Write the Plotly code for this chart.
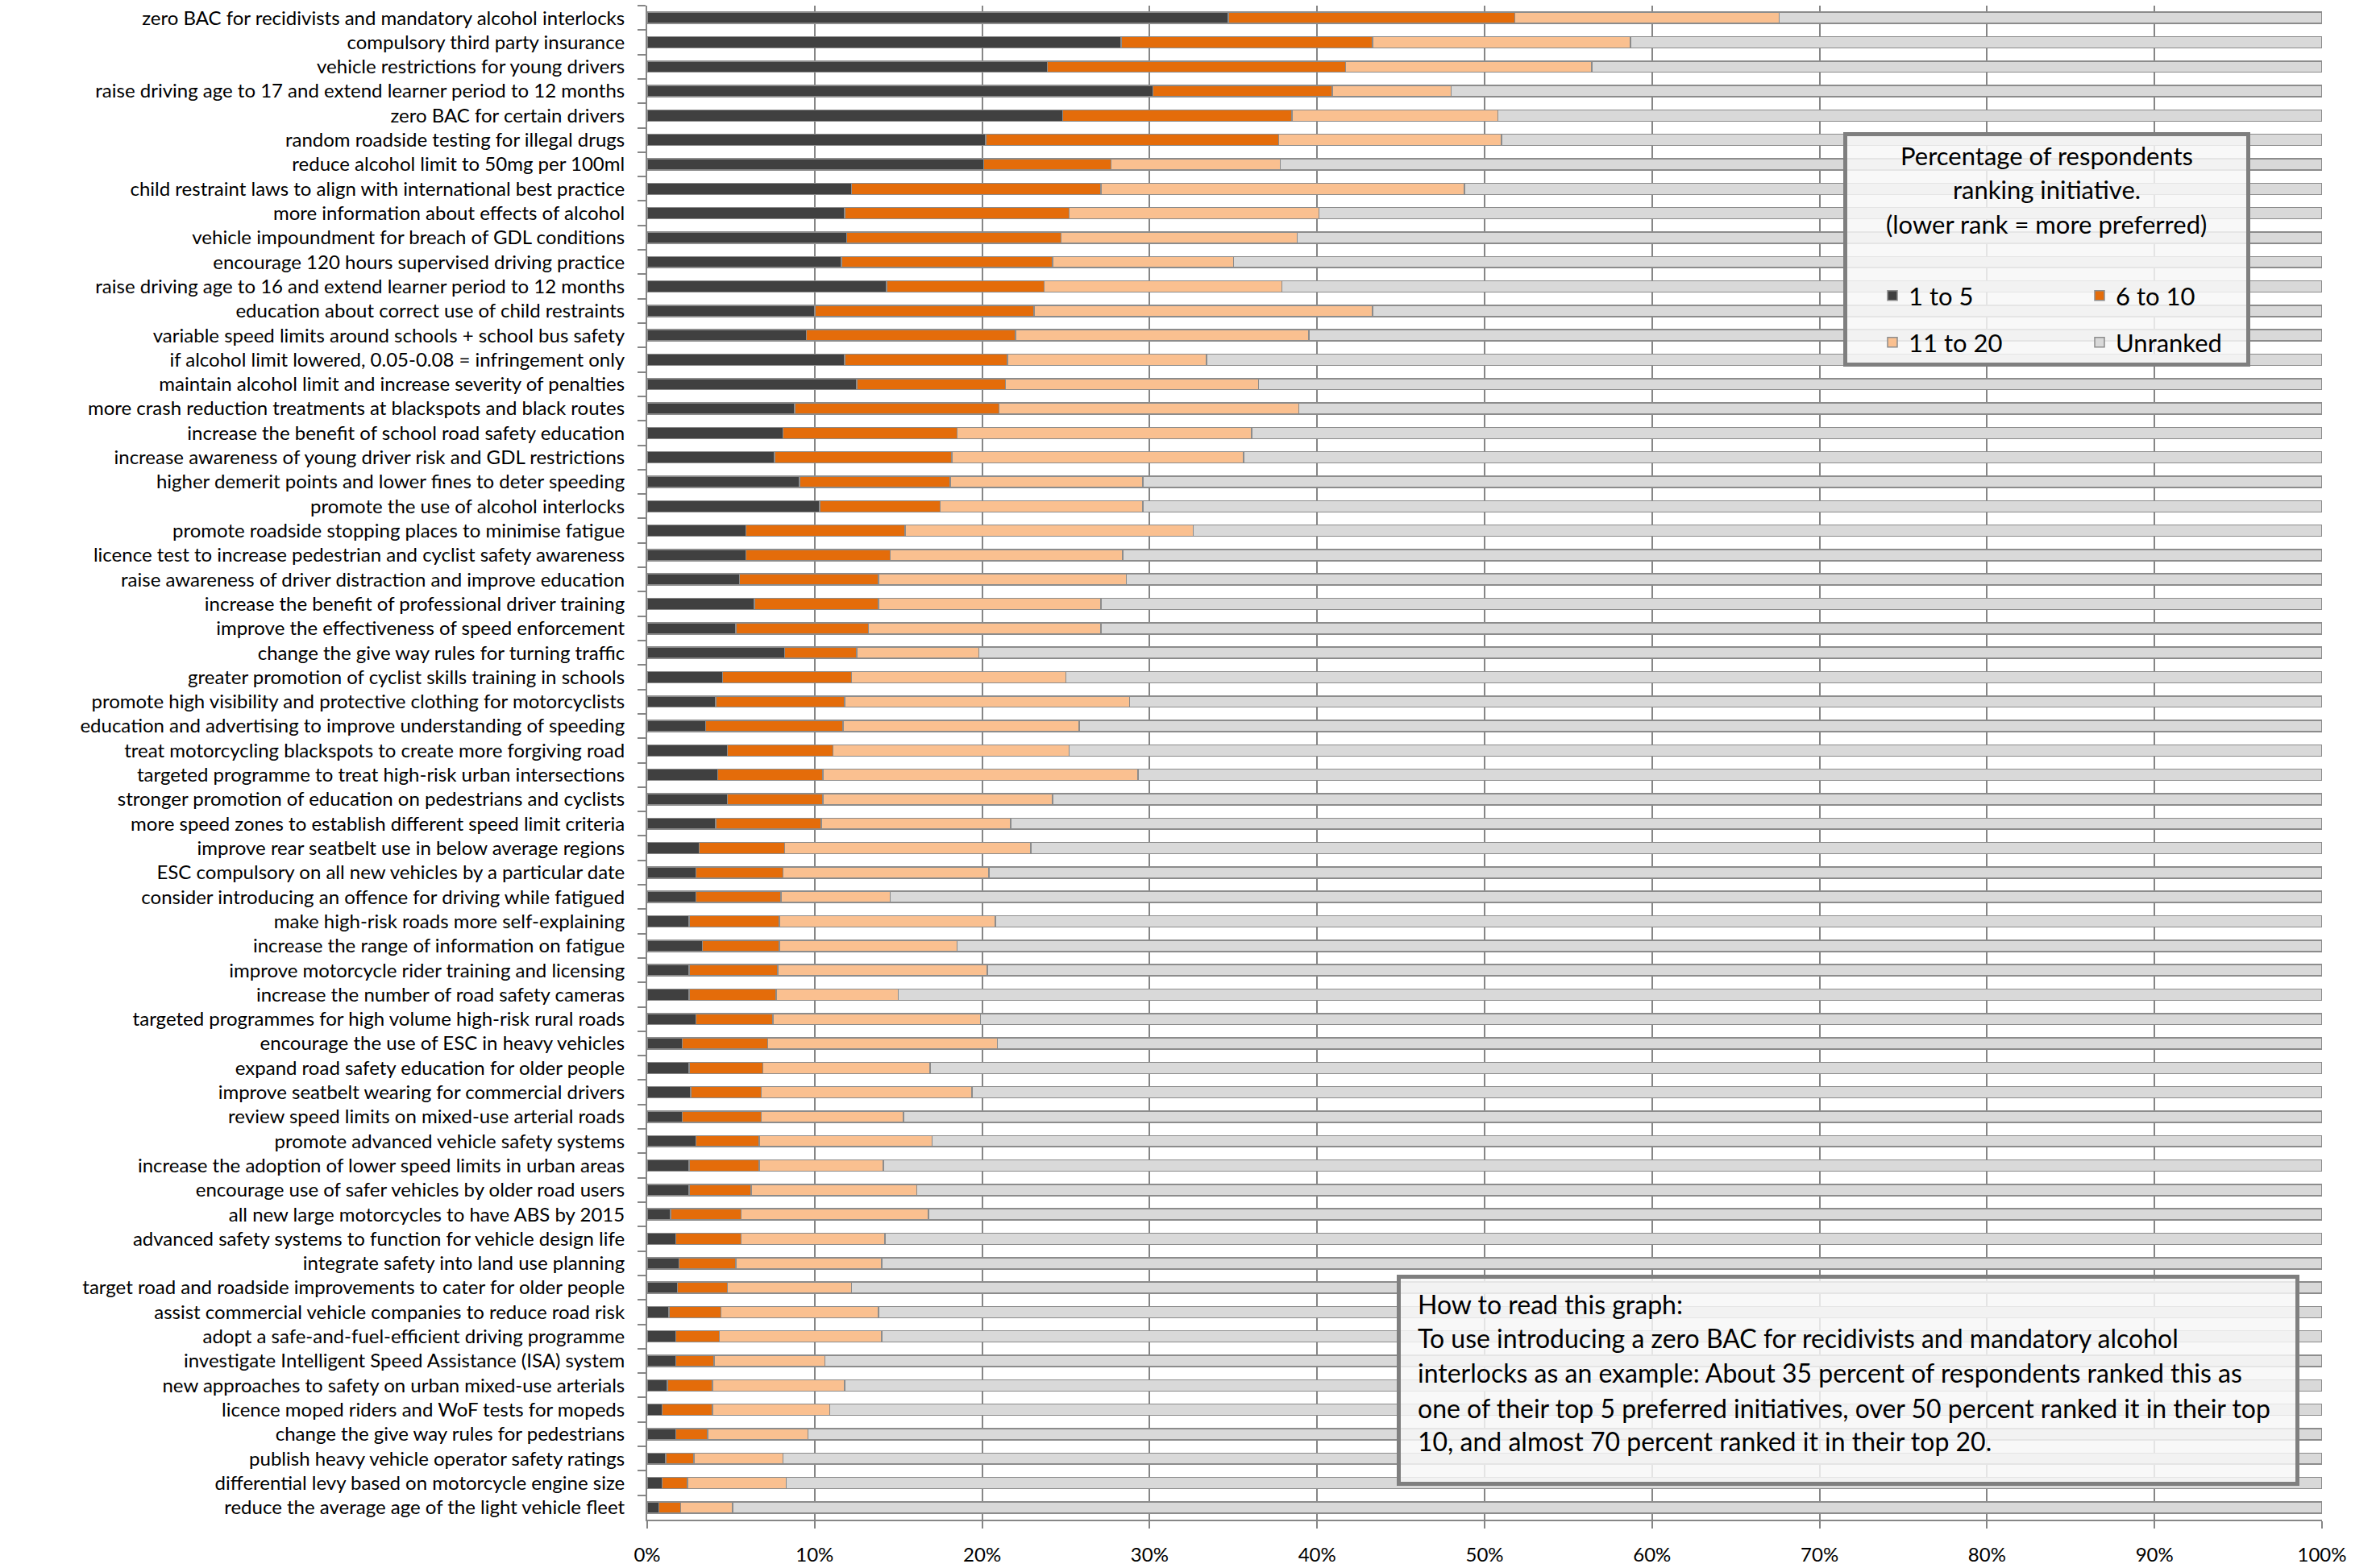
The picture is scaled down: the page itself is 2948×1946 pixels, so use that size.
import plotly.graph_objects as go

categories = [
    "zero BAC for recidivists and mandatory alcohol interlocks",
    "compulsory third party insurance",
    "vehicle restrictions for young drivers",
    "raise driving age to 17 and extend learner period to 12 months",
    "zero BAC for certain drivers",
    "random roadside testing for illegal drugs",
    "reduce alcohol limit to 50mg per 100ml",
    "child restraint laws to align with international best practice",
    "more information about effects of alcohol",
    "vehicle impoundment for breach of GDL conditions",
    "encourage 120 hours supervised driving practice",
    "raise driving age to 16 and extend learner period to 12 months",
    "education about correct use of child restraints",
    "variable speed limits around schools + school bus safety",
    "if alcohol limit lowered, 0.05-0.08 = infringement only",
    "maintain alcohol limit and increase severity of penalties",
    "more crash reduction treatments at blackspots and black routes",
    "increase the benefit of school road safety education",
    "increase awareness of young driver risk and GDL restrictions",
    "higher demerit points and lower fines to deter speeding",
    "promote the use of alcohol interlocks",
    "promote roadside stopping places to minimise fatigue",
    "licence test to increase pedestrian and cyclist safety awareness",
    "raise awareness of driver distraction and improve education",
    "increase the benefit of professional driver training",
    "improve the effectiveness of speed enforcement",
    "change the give way rules for turning traffic",
    "greater promotion of cyclist skills training in schools",
    "promote high visibility and protective clothing for motorcyclists",
    "education and advertising to improve understanding of speeding",
    "treat motorcycling blackspots to create more forgiving road",
    "targeted programme to treat high-risk urban intersections",
    "stronger promotion of education on pedestrians and cyclists",
    "more speed zones to establish different speed limit criteria",
    "improve rear seatbelt use in below average regions",
    "ESC compulsory on all new vehicles by a particular date",
    "consider introducing an offence for driving while fatigued",
    "make high-risk roads more self-explaining",
    "increase the range of information on fatigue",
    "improve motorcycle rider training and licensing",
    "increase the number of road safety cameras",
    "targeted programmes for high volume high-risk rural roads",
    "encourage the use of ESC in heavy vehicles",
    "expand road safety education for older people",
    "improve seatbelt wearing for commercial drivers",
    "review speed limits on mixed-use arterial roads",
    "promote advanced vehicle safety systems",
    "increase the adoption of lower speed limits in urban areas",
    "encourage use of safer vehicles by older road users",
    "all new large motorcycles to have ABS by 2015",
    "advanced safety systems to function for vehicle design life",
    "integrate safety into land use planning",
    "target road and roadside improvements to cater for older people",
    "assist commercial vehicle companies to reduce road risk",
    "adopt a safe-and-fuel-efficient driving programme",
    "investigate Intelligent Speed Assistance (ISA) system",
    "new approaches to safety on urban mixed-use arterials",
    "licence moped riders and WoF tests for mopeds",
    "change the give way rules for pedestrians",
    "publish heavy vehicle operator safety ratings",
    "differential levy based on motorcycle engine size",
    "reduce the average age of the light vehicle fleet",
]

rank_1_to_5 = [34.7, 28.3, 23.9, 30.2, 24.8, 20.2, 20.1, 12.2, 11.8, 11.9,
               11.6, 14.3, 10.0, 9.5, 11.8, 12.5, 8.8, 8.1, 7.6, 9.1,
               10.3, 5.9, 5.9, 5.5, 6.4, 5.3, 8.2, 4.5, 4.1, 3.5,
               4.8, 4.2, 4.8, 4.1, 3.1, 2.9, 2.9, 2.5, 3.3, 2.5,
               2.5, 2.9, 2.1, 2.5, 2.6, 2.1, 2.9, 2.5, 2.5, 1.4,
               1.7, 1.9, 1.8, 1.3, 1.7, 1.7, 1.2, 0.9, 1.7, 1.1,
               0.9, 0.7]
rank_6_to_10 = [17.1, 15.0, 17.8, 10.7, 13.7, 17.5, 7.6, 14.9, 13.4, 12.8,
                12.6, 9.4, 13.1, 12.5, 9.7, 8.9, 12.2, 10.4, 10.6, 9.0,
                7.2, 9.5, 8.6, 8.3, 7.4, 7.9, 4.3, 7.7, 7.7, 8.2,
                6.3, 6.3, 5.7, 6.3, 5.1, 5.2, 5.1, 5.4, 4.6, 5.3,
                5.2, 4.6, 5.1, 4.4, 4.2, 4.7, 3.8, 4.2, 3.7, 4.2,
                3.9, 3.4, 3.0, 3.1, 2.6, 2.3, 2.7, 3.0, 1.9, 1.7,
                1.5, 1.3]
rank_11_to_20 = [15.8, 15.4, 14.7, 7.1, 12.3, 13.3, 10.1, 21.7, 14.9, 14.1,
                 10.8, 14.2, 20.2, 17.5, 11.9, 15.1, 17.9, 17.6, 17.4, 11.5,
                 12.1, 17.2, 13.9, 14.8, 13.3, 13.9, 7.3, 12.8, 17.0, 14.1,
                 14.1, 18.8, 13.7, 11.3, 14.7, 12.3, 6.5, 12.9, 10.6, 12.5,
                 7.3, 12.4, 13.7, 10.0, 12.6, 8.5, 10.3, 7.4, 9.9, 11.2,
                 8.6, 8.7, 7.4, 9.4, 9.7, 6.6, 7.9, 7.0, 6.0, 5.3,
                 5.9, 3.1]
unranked = [32.4, 41.3, 43.6, 52.0, 49.2, 49.0, 62.2, 51.2, 59.9, 61.2,
            65.0, 62.1, 56.7, 60.5, 66.6, 63.5, 61.1, 63.9, 64.4, 70.4,
            70.4, 67.4, 71.6, 71.4, 72.9, 72.9, 80.2, 75.0, 71.2, 74.2,
            74.8, 70.7, 75.8, 78.3, 77.1, 79.6, 85.5, 79.2, 81.5, 79.7,
            85.0, 80.1, 79.1, 83.1, 80.6, 84.7, 83.0, 85.9, 83.9, 83.2,
            85.8, 86.0, 87.8, 86.2, 86.0, 89.4, 88.2, 89.1, 90.4, 91.9,
            91.7, 94.9]

series_names = ["1 to 5", "6 to 10", "11 to 20", "Unranked"]
series_values = [rank_1_to_5, rank_6_to_10, rank_11_to_20, unranked]
series_colors = ["#404040", "#e46c0a", "#fac090", "#d9d9d9"]
series_legend = ["legend", "legend", "legend2", "legend2"]

x_ticks = [0, 10, 20, 30, 40, 50, 60, 70, 80, 90, 100]

legend_title_lines = [
    "Percentage of respondents",
    "ranking initiative.",
    "(lower rank = more preferred)",
]
note_lines = [
    "How to read this graph:",
    "To use introducing a zero BAC for recidivists and mandatory alcohol",
    "interlocks as an example: About 35 percent of respondents ranked this as",
    "one of their top 5 preferred initiatives, over 50 percent ranked it in their top",
    "10, and almost 70 percent ranked it in their top 20.",
]

# ---- layout geometry (pixels) ----
W, H = 2948, 1946
PL, PR, PT, PB = 803, 2881, 7, 1886
PW, PH = PR - PL, PB - PT


def px(xp):
    return (xp - PL) / PW


def py(yp):
    return (PB - yp) / PH


FONT = "Lato"
GRID = "#868686"
BOX_LINE = "#7f7f7f"
BOX_FILL = "rgba(247,247,247,0.84)"

fig = go.Figure()
for name, vals, col, lg in zip(series_names, series_values, series_colors, series_legend):
    fig.add_trace(go.Bar(
        y=categories, x=vals, name=name, orientation="h", legend=lg,
        marker=dict(color=col, line=dict(color="#8c8c8c", width=1.5)),
    ))

legend_common = dict(
    orientation="h", entrywidth=212, entrywidthmode="pixels",
    bgcolor="rgba(0,0,0,0)", borderwidth=0,
    font=dict(family=FONT, size=31, color="black"),
    xanchor="left", yanchor="middle", traceorder="normal",
)

fig.update_layout(
    width=W, height=H,
    margin=dict(l=PL, r=W - PR, t=PT, b=H - PB, autoexpand=False),
    barmode="stack", bargap=0.54,
    paper_bgcolor="white", plot_bgcolor="white",
    font=dict(family=FONT, color="black"),
    showlegend=True,
    legend=dict(x=px(2328), y=py(367), **legend_common),
    legend2=dict(x=px(2328), y=py(425), **legend_common),
)

fig.update_yaxes(
    type="category", categoryorder="array", categoryarray=categories,
    autorange="reversed", tickson="boundaries", ticks="outside", ticklen=10,
    tickcolor=GRID, tickwidth=2, showline=True, linecolor=GRID, linewidth=2,
    showgrid=False, tickfont=dict(family=FONT, size=24, color="black"),
    ticklabelstandoff=21, automargin=False,
)
fig.update_xaxes(
    range=[0, 100], tickmode="array", tickvals=x_ticks,
    ticktext=[f"{v}%" for v in x_ticks],
    showgrid=True, gridcolor=GRID, gridwidth=2, zeroline=False,
    ticks="outside", ticklen=9, tickcolor=GRID, tickwidth=2,
    showline=True, linecolor=GRID, linewidth=2,
    tickfont=dict(family=FONT, size=24, color="black"),
    ticklabelstandoff=12, automargin=False,
)

# legend frame
fig.add_shape(
    type="rect", xref="paper", yref="paper",
    x0=px(2289.5), x1=px(2789.5), y0=py(452.5), y1=py(166.5),
    fillcolor=BOX_FILL, line=dict(color=BOX_LINE, width=5), layer="above",
)
for t, yy in zip(legend_title_lines, [193, 235, 278]):
    fig.add_annotation(
        text=t, xref="paper", yref="paper", x=px(2539), y=py(yy),
        xanchor="center", yanchor="middle", showarrow=False,
        font=dict(family=FONT, size=31, color="black"),
    )

# "How to read" box
fig.add_shape(
    type="rect", xref="paper", yref="paper",
    x0=px(1735.5), x1=px(2850.5), y0=py(1841.5), y1=py(1584.5),
    fillcolor=BOX_FILL, line=dict(color=BOX_LINE, width=5), layer="above",
)
for t, yy in zip(note_lines, [1618, 1660, 1703, 1747, 1788]):
    fig.add_annotation(
        text=t, xref="paper", yref="paper", x=px(1757), y=py(yy),
        xanchor="left", yanchor="middle", showarrow=False, align="left",
        font=dict(family=FONT, size=32, color="black"),
    )

fig.write_html(
    "out.html",
    config={"displayModeBar": False},
    post_script="document.body.style.margin='0px';",
)
